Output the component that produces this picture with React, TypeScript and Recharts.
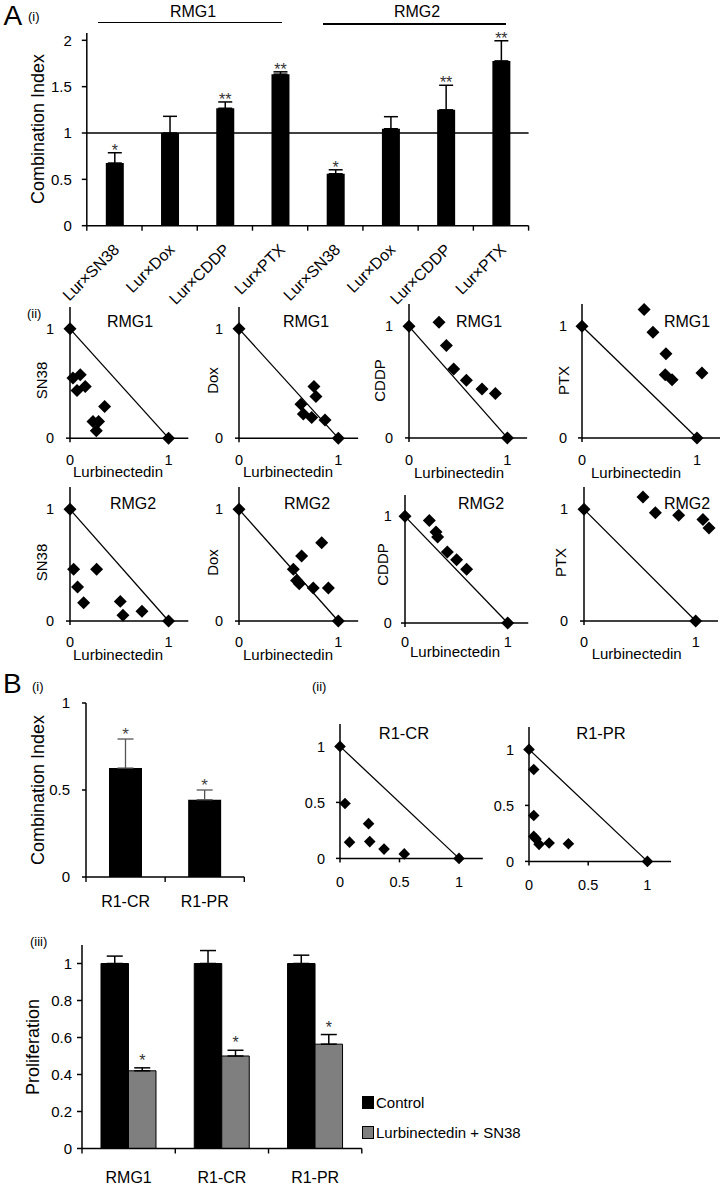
import React from 'react';
import {
  BarChart, Bar, XAxis, YAxis, ErrorBar, ReferenceLine, LabelList,
  ScatterChart, Scatter, Legend,
} from 'recharts';

const FONT = 'Arial, "Liberation Sans", Helvetica, sans-serif';

// ---------- A(i) combination index ----------
const aCats = ['Lur×SN38', 'Lur×Dox', 'Lur×CDDP', 'Lur×PTX', 'Lur×SN38', 'Lur×Dox', 'Lur×CDDP', 'Lur×PTX'];
const aCI = [0.676, 1.0, 1.267, 1.635, 0.56, 1.046, 1.25, 1.778];
const aErr = [0.111, 0.18, 0.068, 0.025, 0.043, 0.13, 0.265, 0.217];
const aStars = ['*', '', '**', '**', '*', '', '**', '**'];
const aTicks = [0, 0.5, 1, 1.5, 2];

// ---------- A(ii) isobolograms (x = Lurbinectedin, y = partner drug) ----------
const isoX = [0, 1];
const isoY = [1, 0];
const sn38Rmg1 = [[0.03, 0.55], [0.104, 0.58], [0.071, 0.436], [0.155, 0.472], [0.351, 0.29], [0.233, 0.152], [0.29, 0.152], [0.267, 0.067]];
const doxRmg1 = [[0.755, 0.472], [0.775, 0.38], [0.624, 0.311], [0.648, 0.22], [0.732, 0.19], [0.866, 0.167]];
const cddpRmg1 = [[0.305, 1.036], [0.38, 0.827], [0.454, 0.618], [0.583, 0.516], [0.742, 0.439], [0.878, 0.397]];
const ptxRmg1 = [[0.54, 1.15], [0.617, 0.946], [0.73, 0.755], [0.724, 0.567], [0.783, 0.522], [1.043, 0.582]];
const sn38Rmg2 = [[0.037, 0.463], [0.077, 0.305], [0.138, 0.164], [0.27, 0.463], [0.51, 0.176], [0.537, 0.051], [0.73, 0.087]];
const doxRmg2 = [[0.833, 0.7], [0.631, 0.582], [0.547, 0.463], [0.58, 0.364], [0.607, 0.334], [0.748, 0.296], [0.9, 0.296]];
const cddpRmg2 = [[0.237, 0.962], [0.302, 0.853], [0.318, 0.806], [0.412, 0.666], [0.503, 0.594], [0.6, 0.503]];
const ptxRmg2 = [[0.528, 1.11], [0.639, 0.97], [0.848, 0.946], [1.065, 0.908], [1.119, 0.833]];

// ---------- B(i) ----------
const bCats = ['R1-CR', 'R1-PR'];
const bCI = [0.626, 0.444];
const bErr = [0.167, 0.056];
const bStars = ['*', '*'];
const bTicks = [0, 0.5, 1];

// ---------- B(ii) ----------
const r1crPts = [[0.042, 0.49], [0.08, 0.145], [0.24, 0.31], [0.25, 0.15], [0.37, 0.083], [0.54, 0.04]];
const r1prPts = [[0.04, 0.82], [0.04, 0.41], [0.04, 0.223], [0.06, 0.2], [0.085, 0.152], [0.17, 0.164], [0.333, 0.158]];
const halfTicks = [0, 0.5, 1];

// ---------- B(iii) ----------
const pCats = ['RMG1', 'R1-CR', 'R1-PR'];
const ctrlVals = [1, 1, 1];
const ctrlErr = [0.04, 0.07, 0.045];
const comboVals = [0.42, 0.5, 0.564];
const comboErr = [0.016, 0.031, 0.052];
const pTicks = [0, 0.2, 0.4, 0.6, 0.8, 1];

const AX = { stroke: '#000', strokeWidth: 1.5 };

function T({ x, y, fs, a = 'middle', rot = false, w = 300, color = '#000', children }: any) {
  const style: any = {
    position: 'absolute', top: y - fs / 2, height: fs, lineHeight: fs + 'px', fontSize: fs,
    whiteSpace: 'nowrap', color,
  };
  if (a === 'middle') { style.left = x - w / 2; style.width = w; style.textAlign = 'center'; }
  else if (a === 'start') { style.left = x; }
  else { style.left = x - w; style.width = w; style.textAlign = 'right'; }
  if (rot) { style.transform = 'rotate(-90deg)'; style.transformOrigin = '50% 50%'; }
  return <div style={style}>{children}</div>;
}

function HLine({ x1, x2, y }: any) {
  return <div style={{ position: 'absolute', left: x1, top: y - 0.75, width: x2 - x1, height: 1.5, background: '#000' }} />;
}

const catTick = (labels: string[], bw: number, fs: number, mode: 'rot' | 'flat', off: number) => (props: any) => {
  const { x, y, index } = props;
  const n = labels.length;
  const els: any[] = [];
  els.push(<line key="a" x1={x - bw / 2} x2={x - bw / 2} y1={y} y2={y + 5} stroke="#000" strokeWidth={1.4} />);
  if (index === n - 1) els.push(<line key="b" x1={x + bw / 2} x2={x + bw / 2} y1={y} y2={y + 5} stroke="#000" strokeWidth={1.4} />);
  if (mode === 'rot') {
    const ax = x + 2, ay = y + off;
    els.push(
      <text key="t" x={ax} y={ay} dy="0.35em" textAnchor="end" transform={`rotate(-45 ${ax} ${ay})`} fontSize={fs} fill="#000">
        {labels[index]}
      </text>,
    );
  } else {
    els.push(<text key="t" x={x} y={y + off} textAnchor="middle" fontSize={fs} fill="#000">{labels[index]}</text>);
  }
  return <g>{els}</g>;
};

const starLabel = (vals: number[], errs: number[], fs: number, fill: string, gap: number) => (props: any) => {
  const { x, y, width, height, index, value } = props;
  if (!value) return null;
  const ppu = Number(height) / vals[index];
  const top = Number(y) - errs[index] * ppu;
  return (
    <text x={Number(x) + Number(width) / 2} y={top + gap} textAnchor="middle" fontSize={fs} fill={fill}>
      {value}
    </text>
  );
};

const diamond = (h: number) => (props: any) => {
  const { cx, cy } = props;
  if (cx == null || cy == null) return null;
  return <path d={`M${cx},${cy - h}L${cx + h},${cy}L${cx},${cy + h}L${cx - h},${cy}Z`} fill="#000" />;
};

function Iso({ c }: { c: any }) {
  const L = 60, Tp = 8, R = 4, B = 45;
  const pw = 1.2 * c.xs, ph = 1.2 * c.ys;
  const left = c.x0 - L, top = c.y0 - ph - Tp;
  const pts = c.pts.map((p: number[]) => ({ x: p[0], y: p[1] }));
  const ends = isoX.map((x, i) => ({ x, y: isoY[i] }));
  const fs = c.fs ?? 14.5;
  const d = diamond(c.dh ?? 6.5);
  return (
    <div style={{ position: 'absolute', left, top }}>
      <ScatterChart width={L + pw + R} height={Tp + ph + B} margin={{ top: Tp, right: R, bottom: 0, left: 0 }}>
        <XAxis type="number" dataKey="x" domain={[0, 1.2]} ticks={c.xt ?? isoX} height={B} axisLine={AX} tickLine={AX}
          tickSize={4} tickMargin={c.xtm ?? 12.6} tick={{ fill: '#000', fontSize: fs }} />
        <YAxis type="number" dataKey="y" domain={[0, 1.2]} ticks={c.yt ?? [0, 1]} width={L} axisLine={AX} tickLine={AX}
          tickSize={4} tickMargin={c.ytm ?? 12} tick={{ fill: '#000', fontSize: fs }} />
        <Scatter data={ends} line={{ stroke: '#000', strokeWidth: 1.3 }} shape={d} isAnimationActive={false} />
        <Scatter data={pts} shape={d} isAnimationActive={false} />
      </ScatterChart>
    </div>
  );
}

const isoCfgs = [
  { x0: 69.7, xs: 98.6, y0: 438.3, ys: 109.3, pts: sn38Rmg1, ylab: 'SN38', ylx: 41.3, title: 'RMG1', tx: 130, ty: 321.7, xlx: 118, xly: 471.7 },
  { x0: 239, xs: 99.3, y0: 438.3, ys: 109.3, pts: doxRmg1, ylab: 'Dox', ylx: 212, title: 'RMG1', tx: 306, ty: 321.7, xlx: 288, xly: 471.7 },
  { x0: 409.3, xs: 98.4, y0: 438.3, ys: 111.6, pts: cddpRmg1, ylab: 'CDDP', ylx: 379, title: 'RMG1', tx: 479, ty: 321.7, xlx: 459, xly: 472 },
  { x0: 581.7, xs: 115, y0: 438.3, ys: 111.6, pts: ptxRmg1, ylab: 'PTX', ylx: 563, title: 'RMG1', tx: 687, ty: 321.7, xlx: 636, xly: 472, ytm: 11 },
  { x0: 69.7, xs: 98.6, y0: 620.7, ys: 111.7, pts: sn38Rmg2, ylab: 'SN38', ylx: 41.3, title: 'RMG2', tx: 133, ty: 504, xlx: 118, xly: 654.3, xtm: 11.9 },
  { x0: 239, xs: 99.3, y0: 620.7, ys: 111.7, pts: doxRmg2, ylab: 'Dox', ylx: 212, title: 'RMG2', tx: 307, ty: 504, xlx: 288, xly: 654.3, xtm: 11.9 },
  { x0: 405, xs: 102.7, y0: 622.7, ys: 106.7, pts: cddpRmg2, ylab: 'CDDP', ylx: 381.7, title: 'RMG2', tx: 481, ty: 504, xlx: 455, xly: 651.7, xtm: 9.9, ytm: 9.3 },
  { x0: 584.3, xs: 111.7, y0: 620.7, ys: 111.7, pts: ptxRmg2, ylab: 'PTX', ylx: 560, title: 'RMG2', tx: 687, ty: 504, xlx: 636.7, xly: 653.3, xtm: 11.9 },
];

const bIsoCfgs = [
  { x0: 340, xs: 119, y0: 858.5, ys: 112, pts: r1crPts, xt: halfTicks, yt: halfTicks, title: 'R1-CR', tx: 404, ty: 733.3, xtm: 14, ytm: 11, dh: 5.8 },
  { x0: 529.3, xs: 118.4, y0: 861, ys: 112, pts: r1prPts, xt: halfTicks, yt: halfTicks, title: 'R1-PR', tx: 601, ty: 733.3, xtm: 14, ytm: 11, dh: 5.8 },
];

export default function App() {
  // A(i) geometry
  const aPlotL = 86.8, aPlotW = 441.8, aTop = 32.9, aH = 192.8;
  const aData = aCats.map((c, i) => ({ id: 'k' + i, ci: aCI[i], e: [0, aErr[i]], star: aStars[i] }));
  // B(i)
  const bData = bCats.map((c, i) => ({ cat: c, ci: bCI[i], e: [0, bErr[i]], star: bStars[i] }));
  // B(iii)
  const pData = pCats.map((c, i) => ({ cat: c, ctrl: ctrlVals[i], ce: [0, ctrlErr[i]], combo: comboVals[i], me: [0, comboErr[i]], star: '*' }));

  const legendContent = (props: any) => {
    const items = props.payload || [];
    return (
      <div style={{ fontFamily: FONT }}>
        {items.map((it: any, i: number) => (
          <div key={i} style={{ display: 'flex', alignItems: 'center', height: 30 }}>
            <span style={{ display: 'inline-block', width: 12, height: 13, background: it.color, border: '1px solid #000', boxSizing: 'border-box' }} />
            <span style={{ marginLeft: 2, fontSize: 15, color: '#000', whiteSpace: 'nowrap' }}>{it.value}</span>
          </div>
        ))}
      </div>
    );
  };

  return (
    <div style={{ position: 'absolute', left: 0, top: 0, width: 722, height: 1185, background: '#fff', fontFamily: FONT, overflow: 'hidden' }}>
      {/* A(i) */}
      <div style={{ position: 'absolute', left: 0, top: 0 }}>
        <BarChart width={540} height={aTop + aH + 90} data={aData}
          margin={{ top: aTop, right: 540 - aPlotL - aPlotW, bottom: 0, left: 0 }}>
          <XAxis dataKey="id" height={90} axisLine={AX} tickLine={false} tickSize={0} tickMargin={0} interval={0}
            tick={catTick(aCats, aPlotW / 8, 16, 'rot', 21)} />
          <YAxis domain={[0, 2.08]} ticks={aTicks} width={aPlotL} axisLine={AX} tickLine={AX} tickSize={5} tickMargin={10}
            tick={{ fill: '#000', fontSize: 15 }} />
          <ReferenceLine y={1} stroke="#000" strokeWidth={1.5} />
          <Bar dataKey="ci" fill="#000" barSize={18} isAnimationActive={false}>
            <ErrorBar dataKey="e" width={7} stroke="#000" strokeWidth={1.5} />
            <LabelList dataKey="star" content={starLabel(aCI, aErr, 16, '#333', 3)} />
          </Bar>
        </BarChart>
      </div>

      {/* A(ii) */}
      {isoCfgs.map((c, i) => <Iso key={i} c={c} />)}

      {/* B(i) */}
      <div style={{ position: 'absolute', left: 0, top: 693.3 }}>
        <BarChart width={254.3} height={224} data={bData} margin={{ top: 10, right: 10, bottom: 0, left: 0 }}>
          <XAxis dataKey="cat" height={40} axisLine={AX} tickLine={false} tickSize={0} tickMargin={0} interval={0}
            tick={catTick(bCats, 158.3 / 2, 16, 'flat', 30.1)} />
          <YAxis domain={[0, 1]} ticks={bTicks} width={86} axisLine={AX} tickLine={AX} tickSize={4} tickMargin={12}
            tick={{ fill: '#000', fontSize: 15 }} />
          <Bar dataKey="ci" fill="#000" barSize={33} isAnimationActive={false}>
            <ErrorBar dataKey="e" width={8} stroke="#555" strokeWidth={1.3} />
            <LabelList dataKey="star" content={starLabel(bCI, bErr, 17, '#444', 1)} />
          </Bar>
        </BarChart>
      </div>

      {/* B(ii) */}
      {bIsoCfgs.map((c, i) => <Iso key={'b' + i} c={c} />)}

      {/* B(iii) */}
      <div style={{ position: 'absolute', left: 0, top: 934.8 }}>
        <BarChart width={561.8} height={250} data={pData} barGap={0} margin={{ top: 10, right: 200, bottom: 0, left: 0 }}>
          <XAxis dataKey="cat" height={36.5} axisLine={AX} tickLine={false} tickSize={0} tickMargin={0} interval={0}
            tick={catTick(pCats, 279.8 / 3, 16, 'flat', 34.1)} />
          <YAxis domain={[0, 1.1]} ticks={pTicks} width={82} axisLine={AX} tickLine={AX} tickSize={5} tickMargin={5}
            tick={{ fill: '#000', fontSize: 15 }} />
          <Legend layout="horizontal" verticalAlign="middle" align="center" content={legendContent}
            wrapperStyle={{ left: 362, top: 153.2, width: 200, height: 60 }} />
          <Bar dataKey="ctrl" name="Control" fill="#000" stroke="#000" barSize={27.5} isAnimationActive={false}>
            <ErrorBar dataKey="ce" width={8} stroke="#000" strokeWidth={1.5} />
          </Bar>
          <Bar dataKey="combo" name="Lurbinectedin + SN38" fill="#7f7f7f" stroke="#000" strokeWidth={1} barSize={27.5} isAnimationActive={false}>
            <ErrorBar dataKey="me" width={8} stroke="#000" strokeWidth={1.5} />
            <LabelList dataKey="star" content={starLabel(comboVals, comboErr, 16, '#333', -2)} />
          </Bar>
        </BarChart>
      </div>

      {/* texts */}
      <T x={3.6} y={15.5} fs={28} a="start">A</T>
      <T x={28} y={16} fs={13} a="start">(i)</T>
      <T x={193} y={11.7} fs={16}>RMG1</T>
      <T x={417} y={11.7} fs={16}>RMG2</T>
      <HLine x1={98} x2={282} y={22.5} />
      <HLine x1={322.5} x2={506.4} y={24} />
      <T x={37.5} y={129.3} fs={18} rot>Combination Index</T>
      <T x={27} y={313} fs={13} a="start">(ii)</T>
      {isoCfgs.map((c, i) => (
        <React.Fragment key={'t' + i}>
          <T x={c.tx} y={c.ty} fs={16}>{c.title}</T>
          <T x={c.ylx} y={c.y0 - 58} fs={15} rot w={80}>{c.ylab}</T>
          <T x={c.xlx} y={c.xly} fs={15} w={140}>Lurbinectedin</T>
        </React.Fragment>
      ))}
      <T x={3} y={684} fs={28} a="start">B</T>
      <T x={32} y={686.7} fs={13} a="start">(i)</T>
      <T x={312} y={686.7} fs={13} a="start">(ii)</T>
      <T x={37.5} y={790} fs={18} rot>Combination Index</T>
      {bIsoCfgs.map((c, i) => <T key={'bt' + i} x={c.tx} y={c.ty} fs={16.5}>{c.title}</T>)}
      <T x={30} y={941.7} fs={13} a="start">(iii)</T>
      <T x={33} y={1046.5} fs={18} rot>Proliferation</T>
    </div>
  );
}
